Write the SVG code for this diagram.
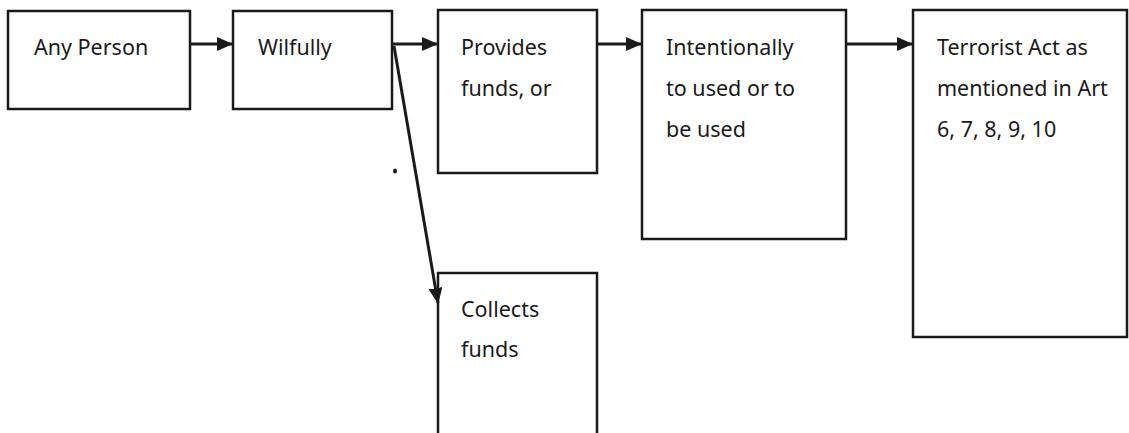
<svg xmlns="http://www.w3.org/2000/svg" width="1129" height="433" viewBox="0 0 1129 433">
<style>
.box{fill:#fff;stroke:#1a1a1a;stroke-width:2.5}
.lbl{font-family:"Noto Sans","Open Sans",sans-serif;font-size:21.5px;fill:#1a1a1a}
.con{stroke:#1a1a1a;stroke-width:3;fill:none}
</style>
<defs>
<marker id="ah" markerWidth="16" markerHeight="14" refX="15" refY="7" orient="auto" markerUnits="userSpaceOnUse">
<path d="M0,0 L16,7 L0,14 Z" fill="#1a1a1a"/>
</marker>
</defs>
<rect width="1129" height="433" fill="#fff"/>
<g id="n1"><rect class="box" x="8" y="11" width="182" height="98"/><text class="lbl" x="34" y="55">Any Person</text></g>
<g id="n2"><rect class="box" x="233" y="11" width="159" height="98"/><text class="lbl" x="258" y="55">Wilfully</text></g>
<g id="n3"><rect class="box" x="438" y="10" width="159" height="163"/><text class="lbl" x="461" y="55">Provides</text><text class="lbl" x="461" y="96">funds, or</text></g>
<g id="n4"><rect class="box" x="642" y="10" width="204" height="229"/><text class="lbl" x="666" y="55">Intentionally</text><text class="lbl" x="666" y="96">to used or to</text><text class="lbl" x="666" y="137">be used</text></g>
<g id="n5"><rect class="box" x="913" y="10" width="214" height="327"/><text class="lbl" x="937" y="55">Terrorist Act as</text><text class="lbl" x="937" y="96">mentioned in Art</text><text class="lbl" x="937" y="137">6, 7, 8, 9, 10</text></g>
<g id="n6"><path class="box" d="M438,440 V273 H597 V440"/><text class="lbl" x="461" y="317">Collects</text><text class="lbl" x="461" y="357">funds</text></g>
<g id="connectors">
<line class="con" x1="190" y1="44" x2="232" y2="44" marker-end="url(#ah)"/>
<line class="con" x1="392" y1="44" x2="437" y2="44" marker-end="url(#ah)"/>
<line class="con" x1="597" y1="44" x2="641" y2="44" marker-end="url(#ah)"/>
<line class="con" x1="846" y1="44" x2="912" y2="44" marker-end="url(#ah)"/>
<line class="con" x1="394" y1="46" x2="438" y2="303" marker-end="url(#ah)"/>
</g>
<ellipse cx="395" cy="171" rx="2" ry="2.5" fill="#1a1a1a"/>
</svg>
